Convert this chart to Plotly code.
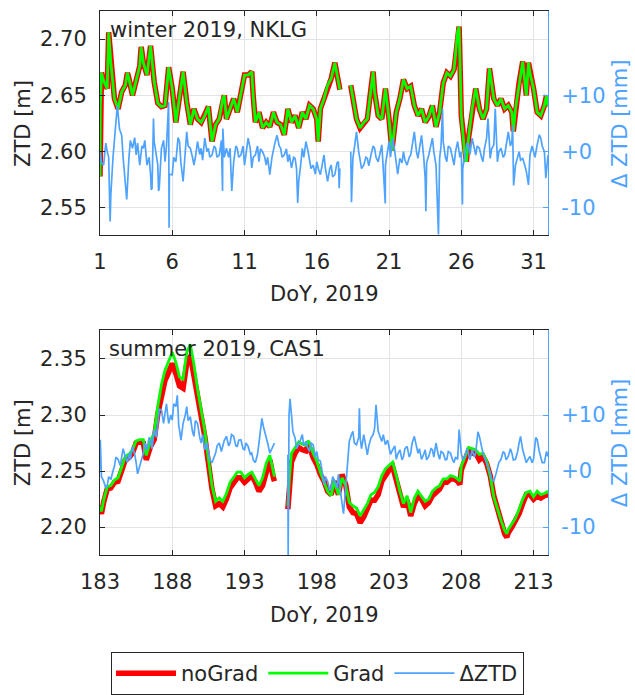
import plotly.graph_objects as go

FONT = "DejaVu Sans"
FS = 21
DARK = "#262626"
GRID = "#e3e3e3"
RED = "#ff0000"
GREEN = "#00ff00"
BLUE = "#4da3ff"

# ---------------- top panel: winter 2019, NKLG ----------------
top_days = [
    1.0, 1.02, 1.1, 1.25, 1.5, 1.6, 1.75, 2.0, 2.25, 2.5,
    2.75, 2.9, 3.0, 3.25, 3.5, 3.75, 3.85, 4.0, 4.25, 4.5,
    4.75, 5.0, 5.25, 5.5, 5.75, 6.0, 6.25, 6.5, 6.75, 7.0,
    7.25, 7.5, 7.75, 8.0, 8.25, 8.5, 8.75, 9.0, 9.25, 9.5,
    9.6, 9.75, 10.0, 10.25, 10.5, 10.75, 11.0, 11.25, 11.5, 11.6,
    11.75, 12.0, 12.25, 12.5, 12.75, 13.0, 13.25, 13.5, 13.75, 14.0,
    14.25, 14.5, 14.75, 15.0, 15.25, 15.5, 15.75, 16.0, 16.1, 16.25,
    16.5, 16.75, 17.0, 17.25, 17.5, 17.6, 17.9, 18.35, 18.5, 18.75,
    19.0, 19.25, 19.5, 19.75, 19.9, 20.0, 20.25, 20.5, 20.75, 21.0,
    21.2, 21.5, 21.75, 22.0, 22.25, 22.5, 22.75, 23.0, 23.25, 23.5,
    23.75, 24.0, 24.25, 24.5, 24.75, 25.0, 25.25, 25.5, 25.75, 25.85,
    26.0, 26.25, 26.35, 26.5, 26.75, 27.0, 27.25, 27.5, 27.75, 27.95,
    28.25, 28.5, 28.75, 29.0, 29.25, 29.5, 29.6, 29.75, 30.0, 30.25,
    30.5, 30.65, 30.75, 31.0, 31.25, 31.5, 31.75, 31.9, 32.0,
]
top_nograd = [
    2.578, 2.640, 2.670, 2.663, 2.656, 2.706, 2.679, 2.647, 2.638, 2.653,
    2.659, 2.670, 2.665, 2.650, 2.663, 2.676, 2.693, 2.679, 2.668, 2.694,
    2.662, 2.643, 2.640, 2.641, 2.675, 2.656, 2.626, 2.650, 2.671, 2.644,
    2.624, 2.638, 2.629, 2.626, 2.632, 2.640, 2.609, 2.624, 2.629, 2.647,
    2.650, 2.629, 2.638, 2.647, 2.635, 2.650, 2.668, 2.668, 2.671, 2.650,
    2.626, 2.635, 2.621, 2.626, 2.622, 2.635, 2.626, 2.624, 2.615, 2.638,
    2.626, 2.632, 2.621, 2.635, 2.629, 2.641, 2.638, 2.629, 2.609, 2.638,
    2.647, 2.659, 2.665, 2.679, 2.659, 2.655, None, 2.659, 2.647, 2.629,
    2.621, 2.626, 2.629, 2.656, 2.671, 2.653, 2.632, 2.629, 2.656, 2.629,
    2.601, 2.635, 2.647, 2.664, 2.656, 2.658, 2.641, 2.632, 2.638, 2.626,
    2.631, 2.641, 2.622, 2.635, 2.661, 2.670, 2.667, 2.673, 2.707, 2.711,
    2.632, 2.597, 2.591, 2.612, 2.638, 2.656, 2.638, 2.629, 2.638, 2.674,
    2.647, 2.641, 2.647, 2.638, 2.641, 2.635, 2.618, 2.638, 2.661, 2.680,
    2.650, 2.679, 2.670, 2.656, 2.635, 2.632, 2.641, 2.650, 2.640,
]
# Grad and noGrad coincide at this scale in the winter panel
top_grad = list(top_nograd)

top_dztd_days = [
    1.0, 1.1, 1.25, 1.4, 1.5, 1.6, 1.75, 1.9, 2.0, 2.1,
    2.2, 2.35, 2.5, 2.6, 2.75, 2.85, 3.0, 3.1, 3.25, 3.4,
    3.5, 3.6, 3.75, 3.9, 4.0, 4.1, 4.25, 4.4, 4.5, 4.6,
    4.7, 4.75, 4.9, 5.0, 5.1, 5.25, 5.4, 5.5, 5.6, 5.75,
    5.8, 6.0, 6.1, 6.25, 6.4, 6.5, 6.6, 6.75, 6.85, 7.0,
    7.1, 7.25, 7.4, 7.5, 7.6, 7.75, 7.9, 8.0, 8.1, 8.25,
    8.4, 8.5, 8.6, 8.75, 8.9, 9.0, 9.1, 9.25, 9.4, 9.5,
    9.6, 9.75, 9.9, 10.0, 10.1, 10.25, 10.4, 10.5, 10.6, 10.75,
    10.9, 11.0, 11.1, 11.25, 11.4, 11.5, 11.6, 11.75, 11.9, 12.0,
    12.1, 12.25, 12.4, 12.5, 12.6, 12.75, 12.9, 13.0, 13.1, 13.25,
    13.4, 13.5, 13.6, 13.75, 13.9, 14.0, 14.1, 14.25, 14.4, 14.5,
    14.6, 14.75, 14.9, 15.0, 15.1, 15.25, 15.4, 15.5, 15.6, 15.75,
    15.9, 16.0, 16.1, 16.25, 16.4, 16.5, 16.6, 16.75, 16.9, 17.0,
    17.1, 17.25, 17.4, 17.5, 17.6, 17.9, 18.35, 18.5, 18.6, 18.75,
    18.9, 19.0, 19.1, 19.25, 19.4, 19.5, 19.6, 19.75, 19.9, 20.0,
    20.1, 20.25, 20.4, 20.5, 20.6, 20.75, 20.9, 21.0, 21.1, 21.25,
    21.4, 21.5, 21.6, 21.75, 21.9, 22.0, 22.1, 22.25, 22.4, 22.5,
    22.6, 22.75, 22.9, 23.0, 23.1, 23.25, 23.4, 23.5, 23.6, 23.75,
    23.9, 24.0, 24.1, 24.25, 24.5, 24.6, 24.7, 24.75, 24.9, 25.0,
    25.1, 25.25, 25.4, 25.5, 25.6, 25.75, 25.9, 26.0, 26.1, 26.25,
    26.4, 26.5, 26.6, 26.75, 26.9, 27.0, 27.1, 27.25, 27.4, 27.5,
    27.6, 27.75, 27.85, 28.0, 28.1, 28.25, 28.35, 28.5, 28.6, 28.75,
    28.9, 29.0, 29.1, 29.25, 29.4, 29.5, 29.55, 29.75, 29.9, 30.0,
    30.1, 30.25, 30.4, 30.5, 30.65, 30.75, 30.9, 31.0, 31.1, 31.25,
    31.4, 31.5, 31.6, 31.75, 32.0,
]
top_dztd = [
    0.0, -2.0, -2.4, 1.5, 0.0, -1.0, -7.6, -1.0, 2.4, 5.0,
    8.2, 4.0, 2.9, -1.0, -5.3, -8.5, -1.2, 2.0, 0.6, 2.5,
    -0.6, 1.5, -2.4, 1.0, 0.6, 2.0, -2.4, -1.0, -4.1, -6.5,
    5.9, 1.8, -1.0, -2.4, -6.5, 0.6, 2.0, -1.8, 1.0, 8.8,
    -4.0, -4.1, -1.0, -1.8, 2.5, 1.8, -2.0, -5.3, -1.0, 3.5,
    1.0, 0.6, -1.0, -2.4, -1.0, 1.8, -0.5, 0.6, -1.5, 2.4,
    0.0, 0.6, -1.0, -0.6, 1.0, 0.6, -1.0, -0.6, 2.0, 4.1,
    -1.0, 0.6, -1.0, 0.6, -5.0, -1.8, 1.0, 0.6, -1.0, -0.6,
    1.0, -2.4, 0.0, 2.4, 0.5, -2.9, -1.0, -0.6, 1.0, -1.8,
    0.5, 0.0, -1.0, -2.4, -1.0, -4.1, -1.0, 0.6, 1.5, 2.9,
    1.0, 0.6, -1.0, -0.6, 0.5, -1.8, -0.5, -2.9, -1.0, -1.2,
    -3.0, -5.3, -2.0, 0.6, -1.0, 1.8, 0.0, -1.2, -3.0, -2.4,
    -4.0, -1.8, -3.0, -4.1, -2.0, -0.6, -3.0, -5.3, -3.0, -2.4,
    -4.5, -4.1, -2.0, -1.8, -3.0, None, 0.0, -1.2, 1.0, 3.5,
    0.0, -1.8, -3.0, -2.4, -1.0, -1.2, -2.5, -0.6, 1.0, 0.6,
    -1.0, -1.8, 0.0, 1.2, -3.0, -2.4, 0.0, 1.8, -1.0, 2.4,
    0.0, -2.4, -4.0, -1.2, -2.0, 0.0, -1.5, -2.4, -1.0, -0.6,
    1.0, 3.5, 0.0, -1.2, 0.5, 2.9, -1.0, -4.7, -2.0, -0.6,
    1.0, 2.4, 0.0, -2.4, -1.2, 1.0, 7.6, 1.8, -1.0, -1.8,
    1.0, 0.6, -1.0, -2.4, 0.0, 1.8, -1.0, 0.0, -3.0, -0.6,
    1.5, 1.2, -0.5, 2.4, 0.5, -0.6, 1.0, 0.6, -1.0, -1.8,
    0.5, 2.4, 5.9, -1.2, 0.5, 1.2, 7.6, -1.8, 0.0, 0.6,
    -1.0, -0.6, 1.0, 3.5, 1.0, 1.8, 4.7, -2.4, -1.0, 0.0,
    -1.5, -1.2, -2.5, -3.5, -5.9, -0.6, 1.0, 0.0, -1.0, 1.2,
    3.0, 2.4, 1.0, 0.0, -0.6,
]
top_spike_days = [1.7, 2.82, 4.55, 5.05, 5.78, 9.48, 10.12, 14.68,
                  17.55, 18.4, 20.74, 23.55, 24.42, 26.08, 29.62, 31.85]
top_spike_vals = [-12.4, -8.5, -6.8, -7.0, -13.5, -7.0, -7.0, -9.1,
                  -6.5, -9.0, -9.2, -10.6, -14.7, -9.4, -6.0, -4.7]

# ---------------- bottom panel: summer 2019, CAS1 ----------------
bot_days = [
    183.0, 183.1, 183.25, 183.5, 183.75, 184.0, 184.25, 184.5, 184.75, 185.0,
    185.25, 185.5, 185.75, 186.0, 186.2, 186.5, 186.75, 187.0, 187.25, 187.5,
    187.75, 188.0, 188.25, 188.5, 188.75, 189.0, 189.25, 189.5, 189.75, 190.0,
    190.25, 190.5, 190.75, 191.0, 191.25, 191.5, 191.75, 192.0, 192.25, 192.5,
    192.75, 193.0, 193.25, 193.5, 193.75, 194.0, 194.25, 194.5, 194.75, 195.0,
    195.07, 195.5, 196.0, 196.1, 196.25, 196.5, 196.75, 197.0, 197.25, 197.4,
    197.5, 197.75, 198.0, 198.25, 198.5, 198.75, 199.0, 199.2, 199.5, 199.75,
    200.0, 200.25, 200.5, 200.75, 201.0, 201.25, 201.5, 201.75, 202.0, 202.25,
    202.5, 202.75, 203.0, 203.25, 203.5, 203.75, 204.0, 204.25, 204.5, 204.75,
    205.0, 205.25, 205.5, 205.75, 206.0, 206.25, 206.5, 206.75, 207.0, 207.25,
    207.5, 207.75, 207.9, 208.0, 208.25, 208.5, 208.75, 209.0, 209.25, 209.5,
    209.75, 210.0, 210.25, 210.5, 210.75, 211.0, 211.15, 211.25, 211.5, 211.75,
    212.0, 212.25, 212.5, 212.75, 213.0, 213.25, 213.5, 213.75, 214.0,
]
bot_nograd = [
    2.216, 2.212, 2.222, 2.234, 2.235, 2.240, 2.241, 2.251, 2.260, 2.262,
    2.266, 2.275, 2.276, 2.275, 2.260, 2.272, 2.278, 2.301, 2.319, 2.331,
    2.338, 2.346, 2.337, 2.326, 2.324, 2.346, 2.353, 2.337, 2.316, 2.299,
    2.281, 2.257, 2.234, 2.219, 2.221, 2.218, 2.225, 2.235, 2.240, 2.244,
    2.244, 2.240, 2.243, 2.246, 2.240, 2.232, 2.237, 2.251, 2.260, 2.244,
    2.241, None, 2.216, 2.235, 2.258, 2.266, 2.271, 2.269, 2.268, 2.273,
    2.271, 2.262, 2.256, 2.247, 2.241, 2.232, 2.229, 2.241, 2.229, 2.247,
    2.238, 2.218, 2.213, 2.212, 2.204, 2.209, 2.218, 2.224, 2.224, 2.229,
    2.241, 2.247, 2.251, 2.254, 2.243, 2.228, 2.218, 2.224, 2.210, 2.221,
    2.228, 2.225, 2.219, 2.222, 2.228, 2.231, 2.234, 2.240, 2.240, 2.243,
    2.243, 2.241, 2.238, 2.251, 2.260, 2.268, 2.266, 2.266, 2.260, 2.263,
    2.257, 2.246, 2.228, 2.216, 2.204, 2.194, 2.191, 2.195, 2.200, 2.206,
    2.212, 2.221, 2.229, 2.229, 2.225, 2.228, 2.226, 2.228, 2.229,
]
# Grad minus noGrad, in mm
bot_grad_offset_mm = [
    2, 2, 2, 2, 2, 2, 3, 3, 3, 3,
    3, 2, 2, 3, 4, 5, 6, 7, 8, 9,
    10, 10, 10, 8, 8, 10, 10, 8, 7, 6,
    5, 4, 3, 4, 5, 5, 5, 5, 5, 5,
    5, 4, 4, 3, 3, 5, 7, 6, 4, 4,
    4, 0, 3, 8, 8, 5, 5, 5, 5, 4,
    4, 4, 3, 2, 0, 0, -1, 0, 0, -3,
    -1, 4, 6, 5, 6, 6, 3, 5, 7, 7,
    5, 5, 4, 4, 3, 4, 3, 4, 3, 5,
    4, 3, 4, 3, 4, 4, 3, 3, 3, 3,
    2, 2, 3, 3, 3, 3, 4, 3, 5, 3,
    2, 0, -1, 0, 2, 3, 3, 3, 3, 2,
    4, 4, 2, 3, 2, 4, 3, 2, 3,
]
bot_grad = [None if v is None else v + o / 1000.0
            for v, o in zip(bot_nograd, bot_grad_offset_mm)]

bot_dztd_days = [
    183.0, 183.1, 183.25, 183.4, 183.5, 183.6, 183.75, 183.9, 184.0, 184.1,
    184.25, 184.4, 184.5, 184.6, 184.75, 184.9, 185.0, 185.1, 185.25, 185.4,
    185.5, 185.6, 185.75, 185.9, 186.0, 186.1, 186.25, 186.4, 186.5, 186.6,
    186.75, 186.9, 187.0, 187.1, 187.25, 187.4, 187.5, 187.6, 187.75, 187.9,
    188.0, 188.1, 188.25, 188.35, 188.45, 188.5, 188.6, 188.75, 188.9, 189.0,
    189.1, 189.25, 189.4, 189.5, 189.6, 189.75, 189.9, 190.0, 190.1, 190.25,
    190.4, 190.5, 190.6, 190.75, 190.9, 191.0, 191.1, 191.25, 191.4, 191.5,
    191.6, 191.75, 191.9, 192.0, 192.1, 192.25, 192.4, 192.5, 192.6, 192.75,
    192.9, 193.0, 193.1, 193.25, 193.4, 193.5, 193.6, 193.75, 193.9, 194.0,
    194.1, 194.2, 194.3, 194.5, 194.6, 194.75, 194.9, 195.0, 195.07, 195.5,
    196.0, 196.08, 196.15, 196.25, 196.35, 196.5, 196.6, 196.75, 196.9, 197.0,
    197.1, 197.25, 197.4, 197.5, 197.6, 197.75, 197.9, 198.0, 198.1, 198.25,
    198.4, 198.5, 198.6, 198.75, 198.9, 199.0, 199.1, 199.25, 199.4, 199.5,
    199.6, 199.75, 199.85, 200.0, 200.1, 200.25, 200.4, 200.5, 200.6, 200.75,
    200.9, 201.0, 201.1, 201.25, 201.4, 201.5, 201.6, 201.75, 201.9, 202.0,
    202.1, 202.2, 202.25, 202.4, 202.5, 202.6, 202.75, 202.9, 203.0, 203.1,
    203.25, 203.4, 203.5, 203.6, 203.75, 203.9, 204.0, 204.1, 204.25, 204.4,
    204.5, 204.6, 204.75, 204.9, 205.0, 205.1, 205.25, 205.4, 205.5, 205.6,
    205.75, 205.9, 206.0, 206.1, 206.25, 206.4, 206.5, 206.6, 206.75, 206.9,
    207.0, 207.1, 207.25, 207.4, 207.5, 207.6, 207.75, 207.85, 208.0, 208.1,
    208.25, 208.4, 208.5, 208.6, 208.75, 208.9, 209.0, 209.15, 209.25, 209.4,
    209.5, 209.6, 209.75, 209.9, 210.0, 210.1, 210.25, 210.4, 210.5, 210.6,
    210.75, 210.9, 211.0, 211.1, 211.25, 211.4, 211.5, 211.6, 211.75, 211.9,
    212.0, 212.1, 212.25, 212.4, 212.5, 212.6, 212.75, 212.9, 213.0, 213.15,
    213.25, 213.4, 213.5, 213.6, 213.75, 213.9, 214.0,
]
bot_dztd = [
    0.3, -1.0, -1.8, -3.0, -2.6, -1.0, -1.5, 0.0, 0.9, 2.5,
    2.1, 1.0, 2.9, 4.0, 2.6, 1.5, 3.2, 2.0, 4.4, 3.0,
    1.5, -0.5, 0.9, 2.5, 3.2, 5.0, 3.8, 6.0, 5.6, 4.0,
    7.4, 6.0, 8.5, 11.0, 10.9, 8.5, 10.3, 12.0, 8.5, 10.0,
    9.1, 12.0, 11.5, 13.5, 8.0, 7.4, 5.5, 8.5, 10.0, 11.5,
    9.0, 9.7, 7.0, 6.2, 9.0, 8.5, 6.0, 5.0, 6.5, 3.8,
    5.0, 3.2, 2.0, 1.5, 2.5, 3.2, 4.5, 5.0, 3.5, 4.4,
    5.5, 6.2, 4.5, 5.0, 6.5, 6.2, 4.5, 4.4, 5.5, 5.6,
    4.0, 3.8, 5.0, 4.4, 3.0, 3.2, 2.0, 1.5, 3.0, 5.0,
    7.0, 9.4, 8.0, 6.2, 5.0, 3.2, 4.0, 4.4, 5.0, None,
    2.9, 10.0, 12.9, 10.0, 7.0, 5.9, 4.0, 4.7, 6.0, 6.5,
    4.5, 5.3, 4.0, 3.5, 5.0, 4.7, 2.5, 3.5, 2.0, 1.8,
    -0.5, -2.4, -1.0, -1.8, -3.5, -2.9, -1.0, -1.8, -3.0, -0.6,
    -3.0, -5.3, -7.6, -2.9, 1.0, 5.3, 6.5, 7.1, 5.0, 4.7,
    6.0, 5.9, 4.0, 6.5, 4.0, 2.9, 4.5, 5.9, 6.5, 7.6,
    11.8, 8.0, 7.1, 6.0, 5.3, 6.5, 4.7, 5.5, 4.4, 3.0,
    3.8, 4.5, 2.1, 3.0, 3.8, 2.0, 2.6, 4.0, 4.4, 2.5,
    3.2, 5.0, 6.2, 4.0, 3.2, 4.0, 2.1, 3.0, 3.8, 2.0,
    2.6, 4.0, 3.8, 2.5, 5.0, 3.0, 2.1, 3.5, 3.2, 2.0,
    2.1, 3.5, 3.2, 2.0, 1.5, 2.5, 2.1, 7.4, 3.2, 2.0,
    2.6, 4.0, 3.2, 2.0, 3.8, 2.5, 3.2, 7.0, 6.2, 4.0,
    3.2, 2.5, 1.5, 0.5, -0.3, -1.5, -1.8, -0.5, 0.3, 1.5,
    2.1, 3.5, 3.2, 2.0, 2.6, 4.0, 3.2, 2.0, 2.1, 3.5,
    5.0, 6.2, 3.8, 2.5, 1.5, 2.0, 2.6, 1.5, 2.1, 6.0,
    5.6, 3.5, 2.6, 1.5, 1.5, 3.5, 2.6,
]
bot_spike_days = [183.02, 196.02, 200.95]
bot_spike_vals = [5.6, -15.0, 11.2]

top_xticks = [1, 6, 11, 16, 21, 26, 31]
bot_xticks = [183, 188, 193, 198, 203, 208, 213]
top_yticks = [2.55, 2.60, 2.65, 2.70]
bot_yticks = [2.20, 2.25, 2.30, 2.35]
d_ticks = [-10, 0, 10]
d_ticktext = ["-10", "+0", "+10"]


def merged(days, vals, sdays, svals):
    pts = sorted(list(zip(days, vals)) + list(zip(sdays, svals)), key=lambda p: p[0])
    return [p[0] for p in pts], [p[1] for p in pts]


W, H = 635, 695


def px(xp):
    return xp / W


def py(yp):
    return (H - yp) / H


fig = go.Figure()

panels = [
    dict(days=top_days, nograd=top_nograd, grad=top_grad,
         dd=top_dztd_days, dv=top_dztd, sd=top_spike_days, sv=top_spike_vals,
         xa="x", ya="y", ya2="y2", legend=True),
    dict(days=bot_days, nograd=bot_nograd, grad=bot_grad,
         dd=bot_dztd_days, dv=bot_dztd, sd=bot_spike_days, sv=bot_spike_vals,
         xa="x2", ya="y3", ya2="y4", legend=False),
]
for p in panels:
    fig.add_trace(go.Scatter(x=p["days"], y=p["nograd"], mode="lines", name="noGrad",
                             line=dict(color=RED, width=5.5), legendgroup="n",
                             showlegend=p["legend"], xaxis=p["xa"], yaxis=p["ya"]))
    fig.add_trace(go.Scatter(x=p["days"], y=p["grad"], mode="lines", name="Grad",
                             line=dict(color=GREEN, width=2.8), legendgroup="g",
                             showlegend=p["legend"], xaxis=p["xa"], yaxis=p["ya"]))
    bx, by = merged(p["dd"], p["dv"], p["sd"], p["sv"])
    fig.add_trace(go.Scatter(x=bx, y=by, mode="lines", name="ΔZTD",
                             line=dict(color=BLUE, width=1.7), legendgroup="d",
                             showlegend=p["legend"], xaxis=p["xa"], yaxis=p["ya2"]))

xdom = [px(100), px(548)]
top_dom = [py(237), py(11)]
bot_dom = [py(560), py(333)]

xcommon = dict(showline=True, linecolor=DARK, linewidth=1, mirror="ticks",
               ticks="inside", ticklen=5, tickcolor=DARK, showgrid=True,
               gridcolor=GRID, gridwidth=1, zeroline=False, automargin=False,
               tickfont=dict(family=FONT, size=FS, color=DARK),
               ticklabelstandoff=8)
ycommon = dict(showline=True, linecolor=DARK, linewidth=1, ticks="inside",
               ticklen=5, tickcolor=DARK, showgrid=True, gridcolor=GRID,
               gridwidth=1, zeroline=False, tickformat=".2f", automargin=False,
               tickfont=dict(family=FONT, size=FS, color=DARK),
               ticklabelstandoff=8)
y2common = dict(showline=True, linecolor=BLUE, linewidth=1, ticks="inside",
                ticklen=5, tickcolor=BLUE, showgrid=False, zeroline=False,
                side="right", tickvals=d_ticks, ticktext=d_ticktext, automargin=False,
                tickfont=dict(family=FONT, size=FS, color=BLUE),
                ticklabelstandoff=8)

fig.update_layout(
    template="none",
    width=W, height=H, autosize=False,
    margin=dict(l=0, r=0, t=0, b=0),
    paper_bgcolor="white", plot_bgcolor="white",
    font=dict(family=FONT, size=FS, color=DARK),
    xaxis=dict(xcommon, domain=xdom, anchor="y", range=[1, 32.0], tickvals=top_xticks),
    yaxis=dict(ycommon, domain=top_dom, anchor="x", range=[2.526, 2.725], tickvals=top_yticks),
    yaxis2=dict(y2common, overlaying="y", anchor="x", range=[-14.8, 25.0]),
    xaxis2=dict(xcommon, domain=xdom, anchor="y3", range=[183, 214], tickvals=bot_xticks),
    yaxis3=dict(ycommon, domain=bot_dom, anchor="x2", range=[2.175, 2.3757], tickvals=bot_yticks),
    yaxis4=dict(y2common, overlaying="y3", anchor="x2", range=[-15.0, 25.14]),
    legend=dict(orientation="h", x=0.5, xanchor="center", y=py(658), yanchor="top",
                bordercolor=DARK, borderwidth=1, bgcolor="white",
                font=dict(family=FONT, size=FS, color=DARK), itemwidth=60,
                tracegroupgap=0),
    showlegend=True,
)

ann = [
    dict(text="winter 2019, NKLG", x=px(108), y=py(30), xanchor="left", yanchor="middle"),
    dict(text="summer 2019, CAS1", x=px(107), y=py(352), xanchor="left", yanchor="middle"),
    dict(text="DoY, 2019", x=px(324), y=py(297), xanchor="center", yanchor="middle"),
    dict(text="DoY, 2019", x=px(324), y=py(620), xanchor="center", yanchor="middle"),
    dict(text="ZTD [m]", x=px(23), y=py(125), xanchor="center", yanchor="middle", textangle=-90),
    dict(text="ZTD [m]", x=px(23), y=py(447), xanchor="center", yanchor="middle", textangle=-90),
    dict(text="Δ ZTD [mm]", x=px(620), y=py(125), xanchor="center", yanchor="middle",
         textangle=-90, font=dict(family=FONT, size=FS, color=BLUE)),
    dict(text="Δ ZTD [mm]", x=px(620), y=py(447), xanchor="center", yanchor="middle",
         textangle=-90, font=dict(family=FONT, size=FS, color=BLUE)),
]
for a in ann:
    a.setdefault("font", dict(family=FONT, size=FS, color=DARK))
    fig.add_annotation(xref="paper", yref="paper", showarrow=False, **a)

fig.write_html("out.html")
